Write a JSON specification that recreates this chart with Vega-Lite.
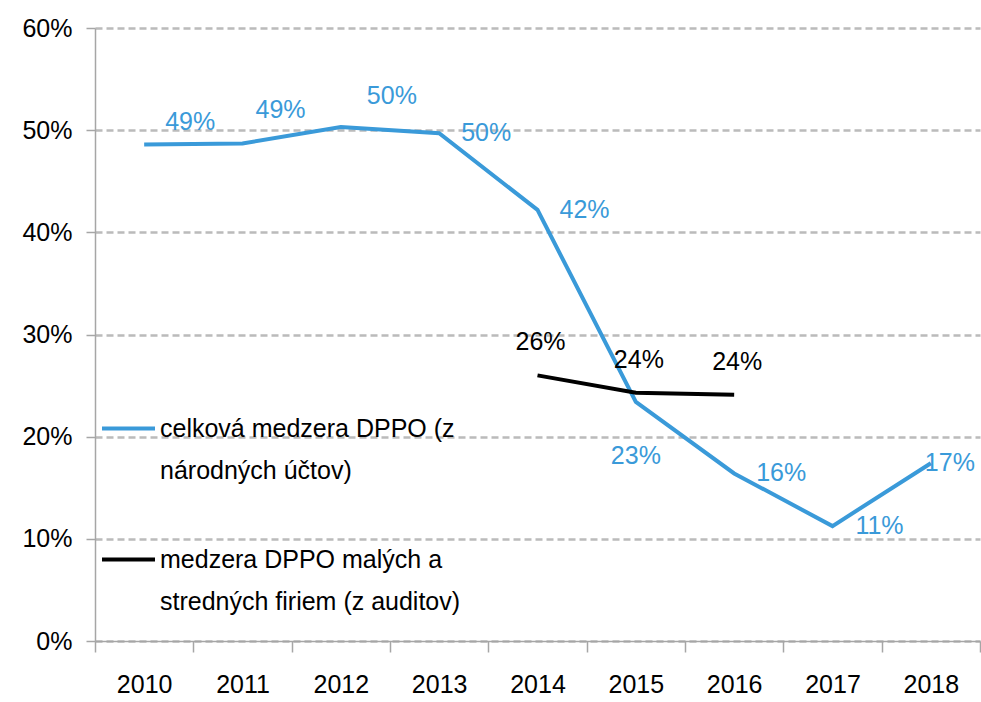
{
  "$schema": "https://vega.github.io/schema/vega-lite/v6.json",
  "width": 885,
  "height": 613,
  "autosize": {"type": "none"},
  "padding": {"left": 95, "top": 28, "right": 1, "bottom": 61},
  "background": "white",
  "config": {
    "font": "Liberation Sans, Arial, sans-serif",
    "view": {"stroke": null}
  },
  "data": {
    "values": [
      {"year": 2010, "series": "celková medzera DPPO (z národných účtov)", "value": 0.486},
      {"year": 2011, "series": "celková medzera DPPO (z národných účtov)", "value": 0.487},
      {"year": 2012, "series": "celková medzera DPPO (z národných účtov)", "value": 0.503},
      {"year": 2013, "series": "celková medzera DPPO (z národných účtov)", "value": 0.497},
      {"year": 2014, "series": "celková medzera DPPO (z národných účtov)", "value": 0.422},
      {"year": 2015, "series": "celková medzera DPPO (z národných účtov)", "value": 0.234},
      {"year": 2016, "series": "celková medzera DPPO (z národných účtov)", "value": 0.164},
      {"year": 2017, "series": "celková medzera DPPO (z národných účtov)", "value": 0.1125},
      {"year": 2018, "series": "celková medzera DPPO (z národných účtov)", "value": 0.174},
      {"year": 2014, "series": "medzera DPPO malých a stredných firiem (z auditov)", "value": 0.26},
      {"year": 2015, "series": "medzera DPPO malých a stredných firiem (z auditov)", "value": 0.243},
      {"year": 2016, "series": "medzera DPPO malých a stredných firiem (z auditov)", "value": 0.241}
    ]
  },
  "encoding": {
    "x": {
      "field": "year",
      "type": "ordinal",
      "bandPosition": 0.5,
      "scale": {"type": "band", "paddingInner": 0, "paddingOuter": 0},
      "axis": {
        "title": null,
        "labelAngle": 0,
        "tickBand": "extent",
        "domainColor": "#a6a6a6",
        "domainWidth": 1.5,
        "tickColor": "#a6a6a6",
        "tickWidth": 1.5,
        "tickSize": 11,
        "labelFontSize": 25,
        "labelColor": "#000000",
        "labelPadding": 20,
        "grid": false
      }
    },
    "y": {
      "field": "value",
      "type": "quantitative",
      "scale": {"domain": [0, 0.6], "nice": false},
      "axis": {
        "title": null,
        "format": ".0%",
        "values": [0, 0.1, 0.2, 0.3, 0.4, 0.5, 0.6],
        "domainColor": "#a6a6a6",
        "domainWidth": 1.5,
        "tickColor": "#a6a6a6",
        "tickWidth": 1.5,
        "tickSize": 9,
        "labelPadding": 14,
        "labelFontSize": 25,
        "labelColor": "#000000",
        "grid": true,
        "gridColor": "#bbbbbb",
        "gridDash": [7, 4],
        "gridWidth": 2.5
      }
    }
  },
  "layer": [
    {
      "mark": {"type": "line", "strokeWidth": 4},
      "encoding": {
        "color": {
          "field": "series",
          "type": "nominal",
          "scale": {
            "domain": ["celková medzera DPPO (z národných účtov)", "medzera DPPO malých a stredných firiem (z auditov)"],
            "range": ["#3a9ad9", "#000000"]
          },
          "legend": {
            "orient": "none",
            "legendX": 5,
            "legendY": 372,
            "title": null,
            "padding": 0,
            "symbolType": "stroke",
            "symbolSize": 2809,
            "symbolStrokeWidth": 4,
            "labelFontSize": 25,
            "labelColor": "#000000",
            "labelLimit": 500,
            "labelOffset": 3,
            "rowPadding": 47,
            "labelBaseline": "middle",
            "labelExpr": "datum.label == 'celková medzera DPPO (z národných účtov)' ? ['celková medzera DPPO (z', 'národných účtov)'] : ['medzera DPPO malých a', 'stredných firiem (z auditov)']",
            "encode": {"labels": {"update": {"lineHeight": {"value": 42}}}}
          }
        }
      }
    },
    {
      "transform": [{"filter": "datum.series == 'celková medzera DPPO (z národných účtov)' && (datum.year == 2013 || datum.year == 2014 || datum.year == 2016 || datum.year == 2017)"}],
      "mark": {"type": "text", "fontSize": 25, "color": "#3a9ad9", "dx": 47, "dy": 0, "baseline": "middle"},
      "encoding": {"text": {"field": "value", "type": "quantitative", "format": ".0%"}}
    },
    {
      "transform": [{"filter": "datum.series == 'celková medzera DPPO (z národných účtov)' && datum.year == 2010"}],
      "mark": {"type": "text", "fontSize": 25, "color": "#3a9ad9", "dx": 46, "dy": -22, "baseline": "middle"},
      "encoding": {"text": {"field": "value", "type": "quantitative", "format": ".0%"}}
    },
    {
      "transform": [{"filter": "datum.series == 'celková medzera DPPO (z národných účtov)' && datum.year == 2011"}],
      "mark": {"type": "text", "fontSize": 25, "color": "#3a9ad9", "dx": 38, "dy": -33, "baseline": "middle"},
      "encoding": {"text": {"field": "value", "type": "quantitative", "format": ".0%"}}
    },
    {
      "transform": [{"filter": "datum.series == 'celková medzera DPPO (z národných účtov)' && datum.year == 2012"}],
      "mark": {"type": "text", "fontSize": 25, "color": "#3a9ad9", "dx": 51, "dy": -31, "baseline": "middle"},
      "encoding": {"text": {"field": "value", "type": "quantitative", "format": ".0%"}}
    },
    {
      "transform": [{"filter": "datum.series == 'celková medzera DPPO (z národných účtov)' && datum.year == 2015"}],
      "mark": {"type": "text", "fontSize": 25, "color": "#3a9ad9", "dx": 0, "dy": 54, "baseline": "middle"},
      "encoding": {"text": {"field": "value", "type": "quantitative", "format": ".0%"}}
    },
    {
      "transform": [{"filter": "datum.series == 'celková medzera DPPO (z národných účtov)' && datum.year == 2018"}],
      "mark": {"type": "text", "fontSize": 25, "color": "#3a9ad9", "dx": 19, "dy": 0, "baseline": "middle"},
      "encoding": {"text": {"field": "value", "type": "quantitative", "format": ".0%"}}
    },
    {
      "transform": [{"filter": "datum.series == 'medzera DPPO malých a stredných firiem (z auditov)'"}],
      "mark": {"type": "text", "fontSize": 25, "color": "#000000", "dx": 3, "dy": -33, "baseline": "middle"},
      "encoding": {"text": {"field": "value", "type": "quantitative", "format": ".0%"}}
    }
  ]
}
